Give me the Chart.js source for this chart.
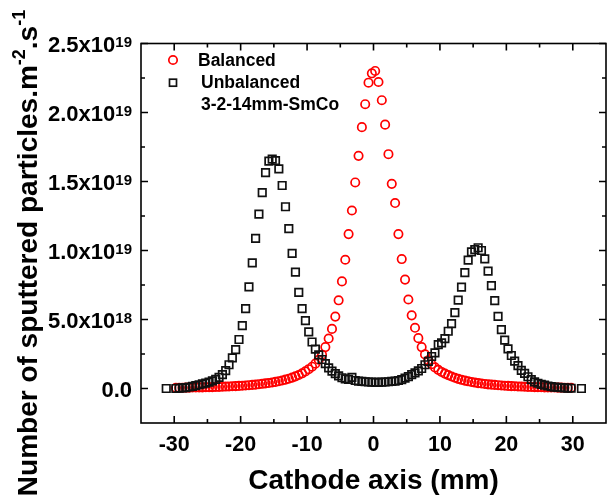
<!DOCTYPE html>
<html>
<head>
<meta charset="utf-8">
<script src="https://cdn.jsdelivr.net/npm/chart.js@4.4.1/dist/chart.umd.min.js"></script>
<style>
html,body{margin:0;padding:0;background:#fff;}
#wrap{width:613px;height:502px;position:relative;}
</style>
</head>
<body>
<div id="wrap"><canvas id="c" width="613" height="502"></canvas></div>
<script>
// ---- data (cathode axis position in mm, sputtered particle flux in m^-2 s^-1) ----
const balancedX = [
-29.75,-29.25,-28.75,-28.25,-27.75,-27.25,-26.75,-26.25,-25.75,-25.25,
-24.75,-24.25,-23.75,-23.25,-22.75,-22.25,-21.75,-21.25,-20.75,-20.25,
-19.75,-19.25,-18.75,-18.25,-17.75,-17.25,-16.75,-16.25,-15.75,-15.25,
-14.75,-14.25,-13.75,-13.25,-12.75,-12.25,-11.75,-11.25,-10.75,-10.25,
-9.75,-9.25,-8.75,-8.25,-7.75,-7.25,-6.75,-6.25,-5.75,-5.25,
-4.75,-4.25,-3.75,-3.25,-2.75,-2.25,-1.75,-1.25,-0.75,-0.25,
0.25,0.75,1.25,1.75,2.25,2.75,3.25,3.75,4.25,4.75,
5.25,5.75,6.25,6.75,7.25,7.75,8.25,8.75,9.25,9.75,
10.25,10.75,11.25,11.75,12.25,12.75,13.25,13.75,14.25,14.75,
15.25,15.75,16.25,16.75,17.25,17.75,18.25,18.75,19.25,19.75,
20.25,20.75,21.25,21.75,22.25,22.75,23.25,23.75,24.25,24.75,
25.25,25.75,26.25,26.75,27.25,27.75,28.25,28.75,29.25,29.75
];
const balancedY = [
0.005e19,0.005e19,0.0055e19,0.006e19,0.0065e19,0.007e19,0.0075e19,0.008e19,0.0085e19,0.009e19,
0.0095e19,0.010e19,0.011e19,0.012e19,0.013e19,0.014e19,0.015e19,0.016e19,0.017e19,0.019e19,
0.020e19,0.022e19,0.024e19,0.026e19,0.028e19,0.031e19,0.034e19,0.037e19,0.040e19,0.044e19,
0.048e19,0.053e19,0.058e19,0.064e19,0.071e19,0.079e19,0.088e19,0.098e19,0.110e19,0.124e19,
0.140e19,0.158e19,0.180e19,0.208e19,0.245e19,0.300e19,0.362e19,0.432e19,0.521e19,0.639e19,
0.776e19,0.933e19,1.119e19,1.290e19,1.493e19,1.686e19,1.894e19,2.060e19,2.216e19,2.284e19,
2.301e19,2.221e19,2.089e19,1.912e19,1.698e19,1.483e19,1.344e19,1.119e19,0.938e19,0.789e19,
0.645e19,0.530e19,0.440e19,0.365e19,0.300e19,0.247e19,0.205e19,0.176e19,0.153e19,0.135e19,
0.120e19,0.108e19,0.097e19,0.087e19,0.078e19,0.070e19,0.063e19,0.057e19,0.052e19,0.047e19,
0.043e19,0.039e19,0.036e19,0.033e19,0.030e19,0.028e19,0.026e19,0.024e19,0.022e19,0.020e19,
0.019e19,0.017e19,0.016e19,0.015e19,0.014e19,0.013e19,0.012e19,0.011e19,0.010e19,0.0095e19,
0.009e19,0.0085e19,0.008e19,0.0075e19,0.007e19,0.0065e19,0.006e19,0.0055e19,0.005e19,0.005e19
];
const unbalancedX = [
-31.2,
-29.75,-29.25,-28.75,-28.25,-27.75,-27.25,-26.75,-26.25,-25.75,-25.25,
-24.75,-24.25,-23.75,-23.25,-22.75,-22.25,-21.75,-21.25,-20.75,-20.25,
-19.75,-19.25,-18.75,-18.25,-17.75,-17.25,-16.75,-16.25,-15.75,-15.25,
-14.75,-14.25,-13.75,-13.25,-12.75,-12.25,-11.75,-11.25,-10.75,-10.25,
-9.75,-9.25,-8.75,-8.25,-7.75,-7.25,-6.75,-6.25,-5.75,-5.25,
-4.75,-4.25,-3.75,-3.25,-2.75,-2.25,-1.75,-1.25,-0.75,-0.25,
0.25,0.75,1.25,1.75,2.25,2.75,3.25,3.75,4.25,4.75,
5.25,5.75,6.25,6.75,7.25,7.75,8.25,8.75,9.25,9.75,
10.25,10.75,11.25,11.75,12.25,12.75,13.25,13.75,14.25,14.75,
15.25,15.75,16.25,16.75,17.25,17.75,18.25,18.75,19.25,19.75,
20.25,20.75,21.25,21.75,22.25,22.75,23.25,23.75,24.25,24.75,
25.25,25.75,26.25,26.75,27.25,27.75,28.25,28.75,29.25,29.75,
31.3
];
const unbalancedY = [
0.000e19,
0.000e19,0.003e19,0.005e19,0.007e19,0.011e19,0.016e19,0.021e19,0.027e19,0.033e19,0.039e19,
0.046e19,0.055e19,0.066e19,0.080e19,0.100e19,0.130e19,0.172e19,0.222e19,0.282e19,0.355e19,
0.456e19,0.579e19,0.736e19,0.910e19,1.088e19,1.264e19,1.420e19,1.565e19,1.648e19,1.662e19,
1.652e19,1.592e19,1.471e19,1.317e19,1.158e19,0.979e19,0.844e19,0.697e19,0.579e19,0.492e19,
0.410e19,0.337e19,0.285e19,0.243e19,0.210e19,0.180e19,0.150e19,0.126e19,0.108e19,0.092e19,
0.078e19,0.070e19,0.066e19,0.080e19,0.058e19,0.054e19,0.051e19,0.049e19,0.047e19,0.046e19,
0.045e19,0.045e19,0.046e19,0.047e19,0.049e19,0.051e19,0.054e19,0.058e19,0.065e19,0.075e19,
0.086e19,0.100e19,0.113e19,0.128e19,0.145e19,0.172e19,0.196e19,0.232e19,0.258e19,0.318e19,
0.331e19,0.362e19,0.415e19,0.470e19,0.550e19,0.640e19,0.735e19,0.840e19,0.930e19,0.990e19,
1.006e19,1.020e19,1.000e19,0.940e19,0.850e19,0.745e19,0.637e19,0.523e19,0.427e19,0.350e19,
0.287e19,0.239e19,0.198e19,0.166e19,0.132e19,0.109e19,0.085e19,0.065e19,0.048e19,0.038e19,
0.030e19,0.024e19,0.018e19,0.014e19,0.010e19,0.008e19,0.006e19,0.004e19,0.003e19,0.002e19,
0.000e19
];
const seriesNames = ['Balanced','Unbalanced'];
const legendNote = '3-2-14mm-SmCo';

// ---- ticks ----
const xTickValues = [-30,-20,-10,0,10,20,30];
const xMinorTickValues = [-25,-15,-5,5,15,25];
const yTickValues = [0,5e18,1e19,1.5e19,2e19,2.5e19];
const yTickMantissa = ['0.0','5.0x10','1.0x10','1.5x10','2.0x10','2.5x10'];
const yTickExponent = ['','18','19','19','19','19'];
const yMinorTickValues = [2.5e18,7.5e18,1.25e19,1.75e19,2.25e19];

const xTitle = 'Cathode axis (mm)';
const yTitleParts = [['Number of sputtered particles.m',false],['-2',true],['.s',false],['-1',true]];

const FONT = "'Liberation Sans', Arial, Helvetica, sans-serif";

const framePlugin = {
  id: 'framePlugin',
  afterDraw(chart) {
    const ctx = chart.ctx;
    const a = chart.chartArea;
    const xs = chart.scales.x, ys = chart.scales.y;
    ctx.save();
    ctx.strokeStyle = '#000';
    ctx.lineWidth = 1.6;
    ctx.strokeRect(a.left, a.top, a.right - a.left, a.bottom - a.top);
    const MAJ = 7, MIN = 4;
    ctx.beginPath();
    xTickValues.forEach(v => {
      const px = xs.getPixelForValue(v);
      ctx.moveTo(px, a.bottom); ctx.lineTo(px, a.bottom - MAJ);
      ctx.moveTo(px, a.top); ctx.lineTo(px, a.top + MAJ);
    });
    xMinorTickValues.forEach(v => {
      const px = xs.getPixelForValue(v);
      ctx.moveTo(px, a.bottom); ctx.lineTo(px, a.bottom - MIN);
      ctx.moveTo(px, a.top); ctx.lineTo(px, a.top + MIN);
    });
    yTickValues.forEach(v => {
      const py = ys.getPixelForValue(v);
      ctx.moveTo(a.left, py); ctx.lineTo(a.left + MAJ, py);
      ctx.moveTo(a.right, py); ctx.lineTo(a.right - MAJ, py);
    });
    yMinorTickValues.forEach(v => {
      const py = ys.getPixelForValue(v);
      ctx.moveTo(a.left, py); ctx.lineTo(a.left + MIN, py);
      ctx.moveTo(a.right, py); ctx.lineTo(a.right - MIN, py);
    });
    ctx.stroke();

    // y tick labels with superscript exponent
    ctx.fillStyle = '#000';
    const rightEdge = a.left - 9;
    yTickValues.forEach((v, i) => {
      const py = ys.getPixelForValue(v);
      ctx.font = 'bold 15px ' + FONT;
      const supW = yTickExponent[i] ? ctx.measureText(yTickExponent[i]).width : 0;
      ctx.font = 'bold 22px ' + FONT;
      ctx.textAlign = 'right';
      ctx.textBaseline = 'alphabetic';
      ctx.fillText(yTickMantissa[i], rightEdge - supW, py + 8);
      if (yTickExponent[i]) {
        ctx.font = 'bold 15px ' + FONT;
        ctx.textAlign = 'left';
        ctx.fillText(yTickExponent[i], rightEdge - supW, py + 3);
      }
    });

    // y axis title (rotated) with superscripts
    ctx.save();
    const bigF = 'bold 28px ' + FONT, supF = 'bold 18px ' + FONT;
    let total = 0;
    yTitleParts.forEach(([t, sup]) => { ctx.font = sup ? supF : bigF; total += ctx.measureText(t).width; });
    ctx.translate(37, 253);
    ctx.rotate(-Math.PI / 2);
    let x0 = -total / 2;
    ctx.textAlign = 'left';
    ctx.textBaseline = 'alphabetic';
    yTitleParts.forEach(([t, sup]) => {
      ctx.font = sup ? supF : bigF;
      ctx.fillText(t, x0, sup ? -12 : 0);
      x0 += ctx.measureText(t).width;
    });
    ctx.restore();

    // legend inside plot
    const ds = chart.data.datasets;
    ctx.lineWidth = 1.7;
    ctx.strokeStyle = ds[0].borderColor;
    ctx.beginPath(); ctx.arc(173, 60, 4.2, 0, Math.PI * 2); ctx.stroke();
    ctx.strokeStyle = ds[1].borderColor;
    ctx.strokeRect(169.5, 79.2, 7, 7);
    ctx.fillStyle = '#000';
    ctx.font = 'bold 17.5px ' + FONT;
    ctx.textAlign = 'left';
    ctx.textBaseline = 'middle';
    ctx.fillText(ds[0].label, 198, 61);
    ctx.fillText(ds[1].label, 201, 83);
    ctx.fillText(legendNote, 201, 105);
    ctx.restore();
  }
};

const ctx = document.getElementById('c').getContext('2d');
new Chart(ctx, {
  type: 'scatter',
  data: {
    datasets: [
      {
        label: seriesNames[0],
        data: balancedX.map((x, i) => ({x: x, y: balancedY[i]})),
        showLine: false,
        pointStyle: 'circle',
        pointRadius: 4.2,
        pointBorderWidth: 1.7,
        borderColor: '#ff0000',
        pointBorderColor: '#ff0000',
        backgroundColor: 'rgba(0,0,0,0)',
        pointBackgroundColor: 'rgba(0,0,0,0)',
        order: 2
      },
      {
        label: seriesNames[1],
        data: unbalancedX.map((x, i) => ({x: x, y: unbalancedY[i]})),
        showLine: false,
        pointStyle: 'rect',
        pointRadius: 5.3,
        pointBorderWidth: 1.7,
        borderColor: '#111111',
        pointBorderColor: '#111111',
        backgroundColor: 'rgba(0,0,0,0)',
        pointBackgroundColor: 'rgba(0,0,0,0)',
        order: 1
      }
    ]
  },
  options: {
    responsive: false,
    animation: false,
    devicePixelRatio: 1,
    layout: {padding: {top: 43.5, right: 1, left: 0, bottom: 0}},
    plugins: {legend: {display: false}, tooltip: {enabled: false}},
    scales: {
      x: {
        type: 'linear',
        position: 'bottom',
        min: -35,
        max: 35,
        afterBuildTicks: s => { s.ticks = xTickValues.map(v => ({value: v})); },
        afterFit: s => { s.height = 79; },
        grid: {display: false, drawTicks: false},
        border: {display: false},
        ticks: {
          color: '#000',
          padding: 9,
          maxRotation: 0,
          autoSkip: false,
          font: {family: FONT, weight: 'bold', size: 21.5}
        },
        title: {
          display: true,
          text: xTitle,
          color: '#000',
          font: {family: FONT, weight: 'bold', size: 28},
          padding: {top: 0, bottom: 4}
        }
      },
      y: {
        type: 'linear',
        position: 'left',
        min: -2.5e18,
        max: 2.5e19,
        afterBuildTicks: s => { s.ticks = yTickValues.map(v => ({value: v})); },
        afterFit: s => { s.width = 141; },
        grid: {display: false, drawTicks: false},
        border: {display: false},
        ticks: {display: false}
      }
    }
  },
  plugins: [framePlugin]
});
</script>
</body>
</html>
